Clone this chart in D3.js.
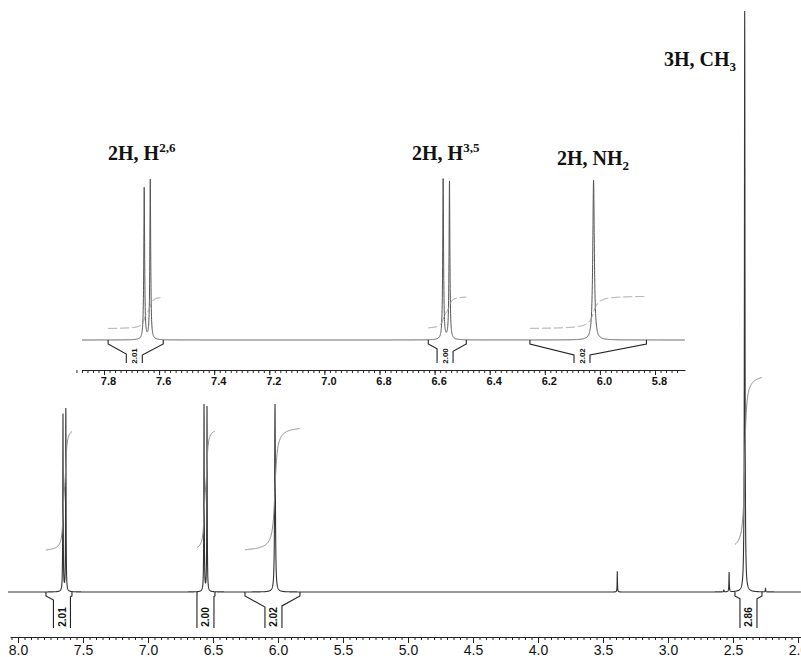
<!DOCTYPE html>
<html>
<head>
<meta charset="utf-8">
<script src="https://cdn.jsdelivr.net/npm/d3@7"></script>
<style>
  html, body { margin: 0; padding: 0; background: #fff; }
  svg { display: block; }
  .tick text { font-family: 'Liberation Sans', Arial, sans-serif; fill: #111; }
  .lbl { font-family: 'Liberation Serif', 'Times New Roman', serif; font-weight: bold; fill: #111; }
</style>
</head>
<body>
<svg width="801" height="657"></svg>
<script>
// peaks (ppm, relative height, half width in ppm)
const peakPpm = [7.654, 7.632, 6.569, 6.546, 6.023, 3.39, 2.57, 2.53, 2.41, 2.25];
const peakHeight = [0.95, 1.0, 1.01, 0.99, 1.0, 0.11, 0.012, 0.105, 3.09, 0.022];
const peakWidth = [0.0018, 0.0018, 0.0018, 0.0018, 0.0033, 0.0015, 0.0015, 0.0018, 0.0025, 0.0015];

// integration regions
const intFrom = [7.785, 6.623, 6.254, 2.485];
const intTo = [7.585, 6.485, 5.831, 2.277];
const intValue = [2.01, 2.00, 2.02, 2.86];
const intLabelMain = [7.662, 6.558, 6.035, 2.381];
const intLabelInset = [7.69, 6.562, 6.065, null];

// axis tick labels
const mainTicks = [8.0, 7.5, 7.0, 6.5, 6.0, 5.5, 5.0, 4.5, 4.0, 3.5, 3.0, 2.5, 2.0];
const insetTicks = [7.8, 7.6, 7.4, 7.2, 7.0, 6.8, 6.6, 6.4, 6.2, 6.0, 5.8];

const svg = d3.select('svg');

function spectrumPath(x, y, px0, px1) {
      const pts = [];
      for (let px = px0; px <= px1; px += 0.1) {
            const p = x.invert(px);
            let v = 0;
            peakPpm.forEach((c, i) => {
                  const g = peakWidth[i];
                  v += peakHeight[i] * g * g / ((p - c) * (p - c) + g * g);
            });
            pts.push([px, y(v)]);
      }
      return d3.line()(pts);
}

function integralPath(x, k, base, stepPx) {
      const pts = [];
      const inside = peakPpm.map((c, i) => i).filter(i => peakPpm[i] <= intFrom[k] && peakPpm[i] >= intTo[k]);
      let total = 0;
      inside.forEach(i => total += peakHeight[i] * peakWidth[i]);
      const px0 = x(intFrom[k]), px1 = x(intTo[k]);
      for (let px = px0; px <= px1; px += 0.25) {
            const p = x.invert(px);
            let f = 0;
            inside.forEach(i => {
                  const g = peakWidth[i] * 4;
                  f += peakHeight[i] * peakWidth[i] * (0.5 + Math.atan((peakPpm[i] - p) / g) / Math.PI);
            });
            pts.push([px, base - stepPx * intValue[k] * f / total]);
      }
      return d3.line()(pts);
}

function drawBrackets(g, x, k, labelPpm, base, bottom, gap, fontSize, labelY) {
      const x1 = x(intFrom[k]), x2 = x(intTo[k]), lx = x(labelPpm);
      const n1 = lx - gap, n2 = lx + gap;
      const s1 = base + 4 + Math.min(11, Math.abs(n1 - x1) * 0.55);
      const s2 = base + 4 + Math.min(11, Math.abs(x2 - n2) * 0.55);
      g.append('path')
            .attr('d', `M${x1},${base}L${x1},${base + 4}L${n1},${s1}L${n1},${bottom}`
                  + `M${x2},${base}L${x2},${base + 4}L${n2},${s2}L${n2},${bottom}`)
            .attr('fill', 'none').attr('stroke', '#222').attr('stroke-width', 1.1);
      g.append('text')
            .attr('transform', `translate(${lx + fontSize * 0.36},${labelY}) rotate(-90)`)
            .attr('text-anchor', 'middle')
            .style('font-family', "'Liberation Sans', Arial, sans-serif")
            .style('font-weight', 'bold')
            .style('font-size', fontSize + 'px')
            .attr('fill', '#111')
            .text(intValue[k].toFixed(2));
}

// ---------- main spectrum ----------
const xMain = d3.scaleLinear().domain([8.0, 2.0]).range([18, 798]);
const yMain = d3.scaleLinear().domain([0, 1]).range([592, 404]);

const main = svg.append('g');
main.append('path')
      .attr('d', spectrumPath(xMain, yMain, 8, 801))
      .attr('fill', 'none').attr('stroke', '#333').attr('stroke-width', 1.1);

intValue.forEach((v, k) => {
      main.append('path')
            .attr('d', integralPath(xMain, k, 552, 62.5))
            .attr('fill', 'none').attr('stroke', '#888').attr('stroke-width', 1);
      drawBrackets(main, xMain, k, intLabelMain[k], 592, 628, 8.5, 10, 617);
});

const xMainAxis = xMain.copy().domain([xMain.invert(10), xMain.invert(801)]).range([10, 801]);
const minorMain = d3.range(8.05, 1.95, -0.05).map(d => +d.toFixed(2));
main.append('g')
      .attr('transform', 'translate(0,637)')
      .call(d3.axisBottom(xMainAxis).tickValues(minorMain).tickSize(3).tickSizeOuter(0).tickFormat(''))
      .call(a => a.selectAll('line,path').attr('stroke', '#222'));
main.append('g')
      .attr('transform', 'translate(0,637)')
      .call(d3.axisBottom(xMainAxis).tickValues(mainTicks).tickSize(6).tickSizeOuter(0).tickPadding(2)
            .tickFormat(d3.format('.1f')))
      .call(a => a.select('.domain').remove())
      .call(a => a.selectAll('line').attr('stroke', '#222'))
      .call(a => a.selectAll('text').style('font-size', '14px'));

// ---------- inset expansion ----------
const xInset = d3.scaleLinear().domain([7.8, 5.8]).range([104, 655]);
const yInset = d3.scaleLinear().domain([0, 1]).range([340, 180]);

const inset = svg.append('g');
inset.append('path')
      .attr('d', spectrumPath(xInset, yInset, 82, 685))
      .attr('fill', 'none').attr('stroke', '#555').attr('stroke-width', 1);

intValue.forEach((v, k) => {
      if (intLabelInset[k] === null) return;
      inset.append('path')
            .attr('d', integralPath(xInset, k, 329, 16.5))
            .attr('fill', 'none').attr('stroke', '#999').attr('stroke-width', 1)
            .attr('stroke-dasharray', '9,3');
      drawBrackets(inset, xInset, k, intLabelInset[k], 340, 363, 8, 8, 356);
});

const xInsetAxis = xInset.copy().domain([xInset.invert(82), xInset.invert(685)]).range([82, 685]);
const minorInset = d3.range(7.90, 5.71, -0.02).map(d => +d.toFixed(2));
inset.append('g')
      .attr('transform', 'translate(0,370)')
      .call(d3.axisBottom(xInsetAxis).tickValues(minorInset).tickSize(3).tickSizeOuter(0).tickFormat(''))
      .call(a => a.selectAll('line,path').attr('stroke', '#222'));
inset.append('g')
      .attr('transform', 'translate(0,370)')
      .call(d3.axisBottom(xInsetAxis).tickValues(insetTicks).tickSize(5).tickSizeOuter(0).tickPadding(2)
            .tickFormat(d3.format('.1f')))
      .call(a => a.select('.domain').remove())
      .call(a => a.selectAll('line').attr('stroke', '#222'))
      .call(a => a.selectAll('text').attr('dx', 4).style('font-size', '11px').style('font-weight', 'bold'));

// ---------- assignments ----------
function label(x, y, main, script, sup) {
      const t = svg.append('text').attr('class', 'lbl').attr('x', x).attr('y', y).style('font-size', '20px');
      t.append('tspan').text(main);
      t.append('tspan').attr('dy', sup ? -8 : 5).style('font-size', '13px').text(script);
}
label(108, 160, '2H, H', '2,6', true);
label(412, 160, '2H, H', '3,5', true);
label(557, 165, '2H, NH', '2', false);
label(664, 66, '3H, CH', '3', false);
</script>
</body>
</html>
